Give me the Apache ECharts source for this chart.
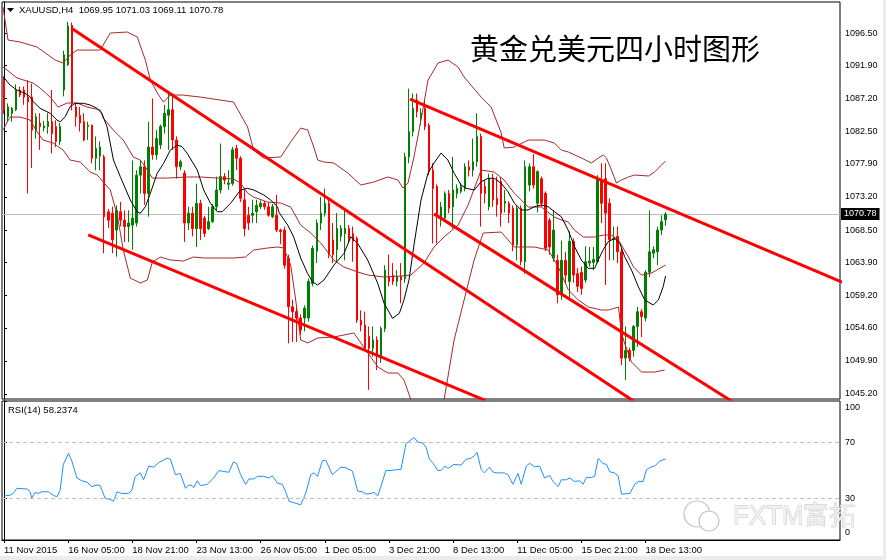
<!DOCTYPE html>
<html><head><meta charset="utf-8">
<script src="https://cdn.jsdelivr.net/npm/echarts@6/dist/echarts.min.js"></script>
<style>html,body{margin:0;padding:0;background:#fff}#c{width:886px;height:560px}</style>
</head><body><div id="c"></div>
<script>
const symbolHeader = 'XAUUSD,H4  1069.95 1071.03 1069.11 1070.78';
const rsiHeader = 'RSI(14) 58.2374';
const chartTitle = '黄金兑美元四小时图形';
const watermark = 'FXTM富拓';
const lastPrice = 1070.78;

const opens = [1089.8,1084.6,1085.1,1085.6,1088.4,1088.4,1087.4,1087.4,1082.7,1083.7,
1083.0,1083.2,1083.9,1083.2,1081.1,1088.4,1092.0,1097.6,1086.0,1084.8,
1083.9,1083.2,1083.4,1078.7,1079.0,1078.9,1071.1,1070.9,1068.5,1071.1,
1069.9,1069.0,1069.2,1069.5,1076.3,1077.5,1073.7,1080.3,1079.2,1080.6,
1083.2,1084.8,1085.6,1081.3,1077.5,1076.6,1069.5,1070.9,1068.7,1072.3,
1070.2,1068.7,1069.7,1071.8,1074.2,1076.1,1075.0,1075.1,1080.1,1078.7,
1072.8,1070.6,1070.6,1071.1,1071.8,1072.3,1071.8,1070.4,1070.6,1068.5,
1068.5,1064.5,1057.6,1056.9,1056.0,1056.0,1056.0,1060.9,1065.5,1069.5,
1070.9,1072.3,1067.1,1065.7,1067.6,1068.0,1068.75,1068.0,1067.3,1055.7,
1055.0,1053.4,1051.7,1052.9,1050.5,1054.5,1061.9,1062.1,1061.2,1061.9,
1061.6,1078.9,1082.5,1087.0,1084.4,1085.8,1083.4,1077.0,1074.7,1070.2,
1070.2,1073.7,1071.8,1073.7,1074.0,1074.4,1077.5,1077.0,1078.2,1081.8,
1074.7,1071.8,1075.8,1073.0,1075.4,1072.3,1072.3,1071.6,1066.4,1071.6,
1064.0,1074.9,1077.5,1072.3,1075.8,1073.7,1069.9,1064.5,1064.2,1059.3,
1064.2,1061.2,1066.9,1062.3,1062.5,1061.4,1063.8,1063.9,1064.0,1075.6,
1075.8,1072.3,1067.1,1067.6,1065.4,1050.3,1051.4,1051.4,1054.8,1056.9,
1056.0,1062.5,1065.2,1065.4,1068.5,1069.95];
const highs = [1090.3,1086.5,1086.0,1089.2,1088.9,1088.9,1089.8,1089.3,1085.1,1085.1,
1084.0,1085.1,1088.4,1084.1,1083.7,1094.0,1098.1,1098.0,1086.5,1086.0,
1085.1,1083.9,1083.5,1081.8,1081.1,1079.2,1071.5,1071.8,1072.0,1072.5,
1071.3,1071.3,1078.4,1077.0,1078.4,1078.4,1083.9,1087.2,1082.7,1083.5,
1086.3,1087.9,1087.9,1081.8,1078.5,1077.0,1071.8,1071.8,1075.1,1072.8,
1070.5,1071.8,1072.2,1076.1,1080.8,1076.6,1077.0,1080.3,1080.6,1079.0,
1074.2,1071.8,1072.8,1072.8,1072.7,1072.6,1072.5,1072.2,1073.5,1068.7,
1069.0,1065.0,1058.6,1057.5,1056.5,1057.8,1061.6,1066.3,1070.0,1073.2,
1074.4,1072.8,1069.5,1070.9,1069.2,1071.4,1069.2,1069.0,1067.6,1057.1,
1056.9,1054.8,1054.8,1053.4,1054.8,1063.5,1065.0,1063.8,1062.8,1063.8,
1079.5,1088.6,1087.9,1087.9,1085.8,1087.0,1083.7,1078.0,1075.0,1072.5,
1074.0,1074.2,1078.9,1075.0,1075.2,1078.0,1078.4,1081.5,1085.1,1082.2,
1075.6,1076.5,1076.5,1076.1,1076.0,1074.2,1072.6,1072.0,1072.0,1072.0,
1078.4,1078.0,1079.3,1077.0,1076.1,1074.0,1070.2,1071.3,1065.0,1067.0,
1065.4,1068.3,1067.3,1063.1,1063.3,1066.2,1066.1,1066.1,1076.3,1078.0,
1078.0,1073.0,1069.0,1069.0,1066.0,1054.8,1051.8,1055.0,1057.6,1057.3,
1062.8,1071.3,1066.2,1069.0,1070.6,1071.03];
const lows = [1085.0,1084.0,1083.9,1085.4,1087.4,1086.3,1073.7,1077.3,1081.5,1079.9,
1082.5,1082.2,1079.4,1080.3,1080.6,1087.5,1091.8,1085.5,1083.2,1082.5,
1081.1,1081.3,1078.0,1077.0,1077.0,1065.2,1068.8,1065.2,1064.7,1069.0,
1066.8,1066.8,1065.7,1069.0,1073.7,1072.1,1070.4,1078.5,1078.5,1080.0,
1082.2,1079.9,1079.9,1075.8,1077.0,1066.8,1068.5,1067.6,1066.1,1067.1,
1067.5,1068.5,1069.5,1071.3,1073.7,1075.0,1074.2,1074.8,1077.0,1072.5,
1067.6,1068.5,1069.5,1069.5,1071.5,1071.4,1070.4,1070.2,1068.2,1066.5,
1063.0,1052.4,1052.6,1052.6,1053.6,1054.1,1055.5,1060.5,1063.8,1068.5,
1070.4,1064.5,1063.8,1064.0,1066.9,1064.2,1066.8,1064.0,1055.3,1054.1,
1051.5,1045.8,1050.5,1048.6,1049.6,1054.0,1060.5,1060.7,1060.5,1058.1,
1061.0,1078.0,1081.8,1084.5,1083.4,1082.7,1076.3,1066.6,1066.6,1069.0,
1069.8,1070.9,1068.7,1073.0,1073.7,1074.0,1076.1,1076.1,1077.5,1069.0,
1072.3,1071.3,1071.8,1070.4,1069.0,1071.0,1069.5,1065.5,1064.2,1063.5,
1062.3,1074.0,1074.4,1071.0,1071.8,1065.5,1065.0,1064.0,1058.1,1058.6,
1060.9,1058.8,1061.0,1059.7,1059.3,1061.0,1063.3,1062.8,1063.8,1069.5,
1060.7,1064.2,1064.2,1063.8,1049.3,1047.2,1049.8,1050.5,1051.9,1053.3,
1055.5,1061.8,1064.5,1063.5,1067.8,1069.11];
const closes = [1085.6,1086.0,1085.8,1088.4,1087.7,1087.4,1086.7,1082.7,1084.6,1083.2,
1083.3,1083.9,1082.2,1081.1,1083.2,1093.4,1097.5,1086.5,1084.6,1083.7,
1081.3,1083.4,1078.7,1080.1,1080.3,1070.4,1069.9,1067.1,1071.3,1069.9,
1069.0,1069.5,1070.2,1076.3,1077.5,1073.7,1080.3,1079.2,1081.5,1083.2,
1085.1,1085.6,1081.3,1077.5,1078.2,1069.5,1070.9,1068.7,1072.3,1068.7,
1068.0,1069.7,1071.8,1074.2,1076.1,1075.6,1075.2,1079.9,1078.7,1073.0,
1068.7,1069.5,1070.9,1072.0,1072.3,1071.8,1070.6,1071.8,1068.5,1068.3,
1063.5,1057.6,1056.9,1056.0,1054.3,1057.4,1061.2,1065.9,1069.5,1070.9,
1072.3,1065.0,1065.0,1068.75,1068.75,1068.75,1067.3,1066.9,1055.7,1055.0,
1051.7,1051.7,1052.9,1050.5,1054.5,1062.8,1061.2,1061.2,1061.9,1061.4,
1078.9,1082.5,1085.8,1085.3,1085.1,1083.2,1076.8,1074.4,1070.4,1071.8,
1073.7,1071.6,1074.2,1074.4,1074.7,1077.5,1077.0,1078.2,1081.8,1073.7,
1073.7,1075.8,1072.8,1072.1,1070.9,1072.6,1070.9,1066.4,1071.6,1064.0,
1077.5,1077.5,1074.9,1076.8,1072.3,1065.9,1066.1,1068.5,1059.3,1064.2,
1062.1,1066.9,1062.1,1060.5,1060.2,1064.0,1064.1,1064.3,1075.8,1072.3,
1070.9,1067.1,1067.3,1065.4,1050.3,1051.4,1050.3,1054.8,1056.9,1056.2,
1062.5,1065.4,1065.7,1068.5,1069.7,1070.78];

// indicator lines as [bar, price]
const upperBand = [[-0.25,1100.19],[1,1095.51],[4,1095.22],[8.25,1094.51],[12.75,1092.66],[14.75,1092.24],[16.5,1093.37],[18.25,1094.08],[24,1094.08],[26.5,1096.5],[30.75,1096.64],[33.25,1095.93],[35.25,1092.66],[36.5,1089.82],[38.25,1087.97],[39.75,1086.69],[41.5,1087.69],[44.5,1087.69],[49,1087.4],[57.25,1086.69],[60.75,1083.14],[62.25,1079.87],[64.75,1078.74],[69,1078.88],[71.5,1081.01],[74,1083.0],[75.75,1082.72],[77.25,1080.3],[78.25,1078.45],[79.75,1078.17],[82.25,1078.03],[85.75,1076.6],[89,1074.9],[92.25,1075.33],[95.75,1076.04],[98.25,1075.61],[99.5,1074.47],[100.75,1075.18],[102.25,1078.88],[104,1084.14],[105.75,1089.82],[108.25,1092.24],[110.75,1092.66],[113.25,1091.67],[114.75,1090.25],[119,1087.4],[121.5,1085.98],[124,1082.29],[124.75,1080.16],[127.25,1080.3],[130.75,1081.29],[134.75,1081.29],[137.25,1080.87],[139,1079.87],[140.75,1079.59],[144,1078.74],[146.5,1078.03],[148.25,1078.74],[149.5,1079.16],[150.25,1078.74],[151.5,1077.03],[152.75,1075.18],[154,1075.61],[155.75,1076.04],[157.25,1076.32],[160.75,1076.18],[162.25,1076.75],[164,1077.74],[165,1078.31]];
const middleBand = [[-0.25,1091.67],[0.75,1091.24],[3.25,1090.11],[7.25,1089.39],[9,1088.68],[11.5,1087.4],[13.5,1085.98],[15.75,1086.55],[18.25,1086.55],[20.75,1085.98],[24,1085.56],[24.75,1084.42],[27.25,1082.72],[29.75,1081.29],[32.25,1078.88],[34,1078.45],[35.75,1077.03],[37,1075.89],[40.75,1075.89],[45.75,1076.04],[49,1076.04],[53.25,1075.89],[57.25,1075.75],[59,1075.18],[60.75,1073.76],[62.25,1073.19],[65.75,1072.48],[69,1072.34],[71.5,1071.77],[74,1069.21],[76.5,1068.08],[79,1066.66],[82.25,1064.24],[84.75,1063.25],[88.25,1062.54],[90.75,1062.11],[94.75,1061.83],[99,1061.97],[101.5,1062.11],[104.75,1063.82],[107.25,1066.09],[109.75,1067.51],[113.25,1069.21],[115.75,1072.06],[119,1077.03],[122.25,1076.75],[124.75,1075.61],[127.25,1073.76],[130.75,1071.77],[134,1071.77],[137.25,1070.35],[139,1069.93],[140.75,1069.64],[142.25,1068.5],[144.5,1067.51],[147.25,1067.51],[149.5,1067.79],[151.5,1067.79],[153.25,1067.08],[155.75,1064.67],[157,1063.25],[159,1062.11],[161.5,1062.39],[163.25,1062.96],[165,1063.53]];
const lowerBand = [[-0.25,1082.72],[1.5,1084.56],[4,1084.56],[6.5,1084.14],[8.25,1082.43],[9.75,1081.29],[12.25,1080.87],[14.75,1079.87],[16.5,1078.45],[19,1078.17],[21.5,1076.75],[23.25,1076.32],[26.5,1074.19],[28.25,1070.64],[29.75,1065.66],[31.5,1061.68],[34,1060.97],[35.75,1061.4],[37,1063.96],[39,1064.67],[41.5,1064.24],[44.75,1064.1],[47.25,1064.67],[49.75,1064.53],[57.25,1064.53],[60.25,1064.67],[62.25,1065.66],[65.75,1065.95],[68.25,1066.09],[69.75,1065.95],[71.5,1063.53],[72.75,1058.56],[74,1052.87],[75.75,1052.45],[78.25,1053.16],[82.25,1053.3],[87.25,1053.87],[88.5,1052.87],[90.75,1051.02],[93.25,1049.04],[95.75,1048.18],[98.25,1048.18],[99.75,1047.19],[101.5,1044.35],[104,1040.79],[107.25,1040.79],[109.75,1044.35],[112.25,1052.87],[114.75,1058.56],[117.25,1064.24],[119.5,1068.08],[124,1068.22],[127.25,1066.09],[132.25,1066.09],[135.75,1065.66],[138.25,1063.25],[140.75,1059.98],[143.25,1058.56],[145.75,1057.56],[149,1057.14],[150.75,1057.14],[153.25,1057.56],[154,1053.87],[154.75,1052.45],[156.5,1049.75],[159,1048.32],[162.25,1048.32],[164.75,1048.61]];
const blackMA = [[-0.2,1090.29],[1.5,1089.11],[3.2,1088.4],[5.25,1087.93],[6.5,1087.45],[7.3,1086.74],[9,1085.8],[11.5,1085.09],[13.2,1084.14],[14,1083.89],[15.25,1084.61],[16.5,1086.03],[17.75,1086.51],[19.8,1086.51],[21.5,1086.27],[23.2,1085.8],[24.4,1085.09],[25.7,1083.18],[27.3,1078.45],[29,1076.08],[31.5,1072.77],[33.2,1071.1],[34,1070.88],[35.25,1071.82],[36.5,1073.72],[38.2,1076.56],[39.8,1077.98],[41.5,1079.87],[43.2,1080.58],[44.4,1080.34],[45.7,1079.4],[48.2,1077.03],[49.8,1074.19],[51.5,1072.3],[53.2,1071.1],[54.4,1071.1],[56.5,1072.3],[59,1074.19],[60.7,1074.43],[62.3,1074.19],[64.8,1073.48],[66.5,1072.77],[68.2,1071.82],[68.6,1071.0],[70.75,1069.21],[72.25,1067.51],[74,1064.53],[75.7,1062.35],[76.9,1061.16],[78.2,1060.69],[79.8,1061.4],[82.3,1063.53],[84.8,1065.19],[86.5,1067.55],[88.2,1066.61],[90.7,1064.24],[93.2,1060.93],[94.8,1058.09],[96.9,1055.96],[98.6,1056.67],[99.75,1058.56],[101,1061.4],[102.25,1066.37],[104,1072.77],[105.75,1076.6],[107.25,1078.03],[109,1079.45],[110.7,1078.45],[112.3,1076.56],[114,1074.9],[115.25,1074.43],[117.3,1074.19],[119,1075.37],[120.7,1075.85],[122.3,1075.85],[124,1075.14],[125.7,1073.95],[127.3,1072.3],[129,1071.35],[130.7,1071.35],[132.3,1071.82],[134,1072.06],[135.7,1071.82],[137.3,1071.1],[139,1070.39],[140.7,1068.5],[142.3,1066.13],[144,1064.24],[145.7,1063.06],[147.3,1063.06],[148.2,1064.24],[149.4,1065.66],[150.7,1066.84],[152.3,1067.32],[153.6,1066.61],[154.8,1064.71],[156.5,1062.82],[158.2,1060.45],[159.8,1058.56],[161.9,1057.85],[163.2,1058.56],[164.4,1060.45],[165,1061.97]];
const rsiValues = [[0,31.7],[1.5,32.2],[2.3,33.5],[3.2,37.2],[5.7,36.7],[6.5,34.7],[6.9,30.2],[7.75,34.2],[8.6,33.5],[9.4,34.7],[11.1,34.7],[12.3,32.2],[13.2,31.0],[14,35.9],[14.8,54.4],[16.1,62.4],[16.9,56.9],[18.2,44.6],[19.4,42.6],[20.7,41.6],[21.1,42.6],[21.9,38.4],[23.2,39.6],[24,39.1],[25.25,29.8],[26.5,29.3],[27.3,27.8],[28.2,34.7],[29.4,33.5],[31.1,33.5],[31.9,35.9],[32.75,45.8],[34,48.3],[34.8,43.3],[36.1,53.2],[37.3,52.4],[38.6,55.7],[40.7,58.9],[41.5,58.1],[42.75,47.0],[44,47.8],[45.25,37.2],[46.1,39.6],[46.9,39.1],[47.3,37.6],[48.2,42.6],[49,39.1],[50.7,40.1],[52.3,44.6],[53.6,50.0],[54.4,49.5],[56.1,48.7],[57.2,56.1],[58,55.0],[59,47.0],[60.25,40.1],[61.1,43.9],[62.3,43.9],[63.2,45.8],[64.8,45.8],[66.1,44.6],[66.9,46.3],[68.2,40.9],[69.4,40.1],[70.25,34.7],[71.1,27.8],[72.3,26.8],[74,25.3],[74.4,24.8],[75.25,33.5],[76.5,47.0],[77.3,48.3],[78.2,45.8],[79.4,56.9],[80.25,57.4],[81.9,47.0],[84,52.4],[85.25,52.0],[86.9,49.5],[88.2,35.2],[89.4,34.7],[90.25,33.0],[91.5,33.5],[92.3,34.2],[93.2,31.7],[94,38.4],[95.25,50.0],[96.5,50.0],[98.2,50.7],[99,50.7],[100.25,69.3],[102.3,73.7],[103.2,70.5],[104.4,69.8],[105.25,66.8],[106.1,58.1],[106.9,55.7],[108.2,50.0],[109,50.0],[110,53.2],[110.8,51.5],[112.2,54.4],[114,53.9],[115.25,58.1],[116.5,58.9],[117.3,60.6],[118,63.1],[119,50.7],[119.8,48.3],[121.1,52.4],[121.9,49.0],[122.75,48.3],[124.8,48.3],[125.7,47.0],[126.9,40.1],[128.2,47.8],[129,40.1],[130.25,53.2],[131.1,55.2],[132.3,52.7],[133.6,53.2],[134.8,44.6],[136.1,46.5],[136.9,42.1],[138.2,38.4],[139,43.3],[140.25,43.3],[141.1,44.6],[142.3,42.1],[143.6,42.6],[144.4,40.1],[145.25,45.0],[146.5,45.0],[147.3,45.8],[148.2,58.7],[149.4,55.0],[150.25,54.4],[151.1,49.0],[152.3,48.3],[153.2,45.8],[154,33.0],[156.1,33.5],[157.3,40.1],[158.2,42.1],[159.4,42.1],[160.25,50.7],[161.5,52.7],[162.3,53.2],[163.6,56.9],[165,58.24]];
// trend lines: [barStart, priceStart, barEnd, priceEnd]
const trendLines = [[16.75,1097.2,157,1044.2],[21,1067.8,120,1044.3],[101.25,1087.1,209,1061.1],[107.25,1070.8,182,1044.0]];

const priceTicks = [1045.20,1049.90,1054.60,1059.20,1063.90,1068.50,1073.20,1077.90,1082.50,1087.20,1091.90,1096.50];
const rsiTicks = [0,30,70,100];
const rsiLevels = [70,30];
const timeLabels = ['11 Nov 2015','16 Nov 05:00','18 Nov 21:00','23 Nov 13:00','26 Nov 05:00','1 Dec 05:00','3 Dec 21:00','8 Dec 13:00','11 Dec 05:00','15 Dec 21:00','18 Dec 13:00'];
const barsPerLabel = 16;
const slots = 209;

const FONT = '"Liberation Sans", Arial, sans-serif';
const categories = Array.from({length: slots}, (_, i) =>
  (i % barsPerLabel === 0 && timeLabels[i / barsPerLabel]) ? timeLabels[i / barsPerLabel] : '');
const candleData = opens.map((o, i) => [o, closes[i], lows[i], highs[i]]);

const lineSeries = (data, color, width, z) => ({
  type: 'line', xAxisIndex: 1, yAxisIndex: 0, data, symbol: 'none', clip: true,
  lineStyle: { color, width }, silent: true, z, animation: false
});

const chart = echarts.init(document.getElementById('c'), null, { renderer: 'canvas' });
chart.setOption({
  animation: false,
  backgroundColor: '#ffffff',
  grid: [
    { left: 2, top: 2, width: 838, height: 397, show: true, borderColor: '#000', borderWidth: 1, backgroundColor: 'transparent' },
    { left: 2, top: 401, width: 838, height: 139, show: true, borderColor: '#000', borderWidth: 1, backgroundColor: 'transparent' }
  ],
  xAxis: [
    { type: 'category', gridIndex: 0, data: categories, boundaryGap: true, show: false },
    { type: 'value', gridIndex: 0, min: -0.5, max: slots - 0.5, show: false },
    { type: 'category', gridIndex: 1, data: categories, boundaryGap: true,
      axisLine: { show: true, lineStyle: { color: '#000', width: 1 } },
      axisTick: { show: true, length: 3, alignWithLabel: true, interval: (i, v) => v !== '', lineStyle: { color: '#000' } },
      axisLabel: { interval: (i, v) => v !== '', align: 'left', margin: 5, fontSize: 9.5, color: '#000', fontFamily: FONT },
      splitLine: { show: false } },
    { type: 'value', gridIndex: 1, min: -0.5, max: slots - 0.5, show: false }
  ],
  yAxis: [
    { type: 'value', gridIndex: 0, position: 'right', min: 1044.49, max: 1100.91,
      splitLine: { show: false },
      axisLine: { show: true, lineStyle: { color: '#000' } },
      axisTick: { show: true, length: 3, customValues: priceTicks, lineStyle: { color: '#000' } },
      axisLabel: { customValues: priceTicks, formatter: v => v.toFixed(2), fontSize: 9, color: '#000', margin: 5, fontFamily: FONT } },
    { type: 'value', gridIndex: 1, position: 'right', min: 0, max: 100,
      splitLine: { show: false },
      axisLine: { show: true, lineStyle: { color: '#000' } },
      axisTick: { show: true, length: 3, customValues: rsiTicks, lineStyle: { color: '#000' } },
      axisLabel: { customValues: rsiTicks, margin: 5, color: '#000', fontSize: 9, fontFamily: FONT,
        formatter: v => v === 100 ? '{t|100}' : (v === 0 ? '{b|0}' : String(v)),
        rich: { t: { padding: [14, 0, 0, 0], fontSize: 9, color: '#000', fontFamily: FONT },
                b: { padding: [0, 0, 14, 0], fontSize: 9, color: '#000', fontFamily: FONT } } } }
  ],
  series: [
    { type: 'candlestick', xAxisIndex: 0, yAxisIndex: 0, data: candleData, barWidth: 2, z: 3,
      itemStyle: { color: '#008000', color0: '#ff0000', borderColor: '#008000', borderColor0: '#ff0000', borderWidth: 1 },
      markLine: { silent: true, symbol: ['none', 'none'], animation: false, z: 1,
        lineStyle: { color: '#c0c0c0', type: 'solid', width: 1 },
        label: { show: true, position: 'end', distance: 1, formatter: () => lastPrice.toFixed(2),
          backgroundColor: '#000', color: '#fff', padding: [2, 3, 1, 3], fontSize: 9, fontFamily: FONT },
        data: [{ yAxis: lastPrice }] } },
    lineSeries(upperBand, '#a52a2a', 1, 4),
    lineSeries(middleBand, '#a52a2a', 1, 4),
    lineSeries(lowerBand, '#a52a2a', 1, 4),
    lineSeries(blackMA, '#000000', 1, 4),
    ...trendLines.map(t => lineSeries([[t[0], t[1]], [t[2], t[3]]], '#ff0000', 3, 5)),
    { type: 'line', xAxisIndex: 3, yAxisIndex: 1, data: rsiValues, symbol: 'none', clip: true, silent: true,
      lineStyle: { color: '#1e90ff', width: 1 }, z: 4,
      markLine: { silent: true, symbol: ['none', 'none'], animation: false,
        lineStyle: { color: '#c0c0c0', type: [4, 3], width: 1 }, label: { show: false },
        data: rsiLevels.map(v => ({ yAxis: v })) } }
  ],
  graphic: [
    { type: 'rect', shape: { x: 0, y: 556, width: 886, height: 4 }, style: { fill: '#ececec' }, silent: true },
    { type: 'rect', shape: { x: 883, y: 0, width: 3, height: 560 }, style: { fill: '#ececec' }, silent: true },
    { type: 'polygon', shape: { points: [[7, 8], [14, 8], [10.5, 12]] }, style: { fill: '#000' }, silent: true },
    { type: 'text', x: 19, y: 10, style: { text: symbolHeader, font: '9.5px ' + FONT, fill: '#000', verticalAlign: 'middle' }, silent: true },
    { type: 'text', x: 8, y: 410, style: { text: rsiHeader, font: '9.5px ' + FONT, fill: '#000', verticalAlign: 'middle' }, silent: true },
    { type: 'text', x: 470, y: 49, style: { text: chartTitle, font: '29px "Noto Sans CJK SC"', fill: '#000', verticalAlign: 'middle' }, silent: true },
    { type: 'circle', shape: { cx: 697, cy: 514, r: 13 }, style: { fill: '#fff', stroke: '#c4c4c4', lineWidth: 1.2 }, silent: true },
    { type: 'circle', shape: { cx: 709, cy: 521, r: 10 }, style: { fill: '#fff', stroke: '#c4c4c4', lineWidth: 1.2 }, silent: true },
    { type: 'text', x: 733, y: 517, style: { text: watermark, font: '26px ' + FONT, fill: '#f2f2f2', stroke: '#bdbdbd', lineWidth: 0.8, verticalAlign: 'middle' }, silent: true }
  ]
});
</script></body></html>
